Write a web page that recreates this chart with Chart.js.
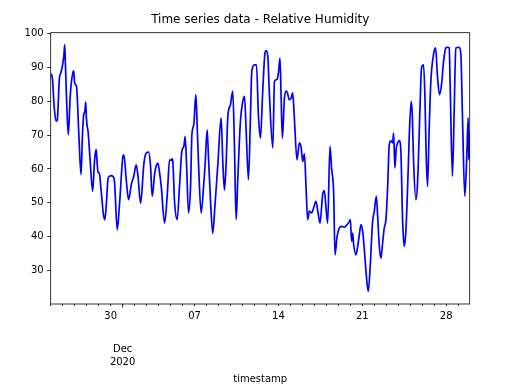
<!DOCTYPE html>
<html>
<head>
<meta charset="utf-8">
<script src="https://cdn.jsdelivr.net/npm/chart.js@4.4.0/dist/chart.umd.min.js"></script>
<style>
  html, body { margin: 0; padding: 0; background: #fff; }
  canvas { display: block; }
</style>
</head>
<body>
<canvas id="humidityChart" width="516" height="388"></canvas>
<script>
// x = days counted from 1 Nov 2020 (25 = 25 Nov 00:00, 31 = 1 Dec 00:00)
const dayPos = [
  25.00, 25.08, 25.15, 25.30, 25.45, 25.55, 25.72, 25.85, 25.95, 26.10,
  26.17, 26.22, 26.35, 26.47, 26.62, 26.72, 26.85, 26.92, 26.98, 27.05,
  27.15, 27.35, 27.53, 27.65, 27.75, 27.85, 27.92, 27.98, 28.05, 28.12,
  28.30, 28.50, 28.65, 28.72, 28.80, 28.87, 28.95, 29.05, 29.20, 29.40,
  29.52, 29.65, 29.78, 29.90, 30.05, 30.19, 30.33, 30.55, 30.75, 31.03,
  31.11, 31.30, 31.50, 31.72, 31.94, 32.13, 32.28, 32.50, 32.78, 32.97,
  33.17, 33.33, 33.47, 33.67, 33.80, 33.94, 34.08, 34.22, 34.50, 34.72,
  34.92, 35.05, 35.12, 35.19, 35.33, 35.55, 35.75, 35.94, 36.11, 36.22,
  36.33, 36.50, 36.67, 36.78, 36.94, 37.11, 37.22, 37.33, 37.55, 37.78,
  37.89, 38.05, 38.17, 38.33, 38.52, 38.72, 38.94, 39.22, 39.36, 39.50,
  39.64, 39.78, 40.00, 40.19, 40.33, 40.47, 40.61, 40.83, 41.03, 41.17,
  41.30, 41.50, 41.67, 41.78, 42.00, 42.17, 42.33, 42.50, 42.69, 42.88,
  42.97, 43.11, 43.25, 43.53, 43.67, 43.89, 44.00, 44.13, 44.22, 44.33,
  44.50, 44.64, 44.75, 44.90, 45.05, 45.19, 45.33, 45.55, 45.75, 45.89,
  46.03, 46.17, 46.30, 46.44, 46.58, 46.78, 46.94, 47.13, 47.33, 47.47,
  47.69, 47.83, 47.97, 48.11, 48.30, 48.44, 48.61, 48.72, 48.89, 49.08,
  49.28, 49.50, 49.72, 49.92, 50.00, 50.11, 50.19, 50.28, 50.47, 50.61,
  50.75, 50.89, 51.03, 51.17, 51.38, 51.50, 51.67, 51.86, 52.00, 52.17,
  52.28, 52.42, 52.55, 52.69, 52.83, 52.97, 53.11, 53.25, 53.39, 53.53,
  53.61, 53.72, 53.83, 53.94, 54.08, 54.22, 54.36, 54.50, 54.64, 54.83,
  54.92, 55.08, 55.17, 55.28, 55.47, 55.61, 55.83, 55.94, 56.11, 56.22,
  56.33, 56.44, 56.58, 56.72, 56.94, 57.11, 57.28, 57.44, 57.61, 57.78,
  57.97, 58.11, 58.25, 58.33, 58.52, 58.67, 58.80, 59.08, 59.22, 59.36,
  59.55, 59.72, 59.83, 59.88, 59.92, 59.96
];
const humidity = [
  87.5, 88.0, 86.5, 78.0, 74.1, 74.5, 86.5, 88.5, 90.0, 93.5,
  96.8, 92.0, 78.0, 70.1, 81.0, 85.5, 88.5, 89.0, 86.0, 85.0,
  84.5, 70.0, 58.3, 70.0, 76.0, 77.0, 79.8, 75.0, 72.5, 71.0,
  62.0, 53.4, 62.0, 64.5, 65.7, 62.0, 59.0, 58.8, 54.0, 46.5,
  45.0, 50.0, 57.0, 57.8, 58.0, 57.8, 56.0, 42.0, 50.0, 63.7,
  64.2, 57.0, 50.9, 55.3, 58.0, 61.2, 58.0, 49.9, 61.7, 64.7,
  65.0, 60.8, 51.9, 58.5, 60.8, 61.7, 59.0, 55.0, 44.0, 52.0,
  62.7, 62.5, 63.0, 62.2, 50.5, 45.0, 55.0, 65.2, 66.7, 69.6,
  62.0, 47.0, 55.0, 70.1, 73.1, 82.0, 73.0, 62.0, 47.0, 56.0,
  61.7, 71.6, 63.0, 51.0, 41.0, 50.0, 61.0, 75.1, 62.0, 53.8,
  62.0, 75.6, 79.0, 83.0, 67.0, 45.0, 57.0, 74.1, 80.0, 81.5,
  72.0, 56.8, 76.0, 88.9, 90.8, 90.8, 76.0, 69.1, 83.0, 94.3,
  95.0, 93.5, 82.0, 66.2, 85.9, 86.5, 88.5, 92.8, 82.0, 69.1,
  81.0, 83.0, 82.5, 80.5, 80.8, 82.5, 75.0, 62.7, 67.7, 66.5,
  62.2, 64.5, 55.0, 45.0, 47.5, 47.0, 48.5, 50.4, 46.5, 44.0,
  52.4, 53.6, 48.5, 44.0, 66.7, 60.0, 52.9, 34.6, 40.0, 42.5,
  43.0, 42.8, 43.5, 44.5, 45.0, 38.6, 41.0, 37.5, 34.6, 37.0,
  40.5, 43.5, 41.5, 36.0, 26.7, 23.8, 32.0, 44.5, 47.5, 51.9,
  46.0, 37.0, 33.6, 38.0, 42.5, 45.0, 54.3, 67.2, 68.3, 67.7,
  70.6, 60.3, 66.0, 67.7, 68.4, 65.0, 45.0, 37.1, 42.0, 60.0,
  70.1, 80.0, 76.0, 62.0, 50.9, 56.0, 80.0, 89.9, 90.8, 82.0,
  64.0, 54.8, 72.0, 86.0, 93.8, 95.8, 87.0, 82.0, 85.0, 91.8,
  95.8, 96.0, 95.8, 85.0, 57.8, 78.0, 95.8, 96.0, 94.0, 75.0,
  51.9, 64.0, 75.1, 62.7, 71.0, 63.0
];

const yTicks = [30, 40, 50, 60, 70, 80, 90, 100];
const labeledDays = [30, 37, 44, 51, 58];
const dayLabels = ['30', '07', '14', '21', '28'];
const monthTickDay = 31;
const monthLabel = ['Dec', '2020'];
const chartTitle = 'Time series data - Relative Humidity';

const xMin = 25, xMax = 59.96;
const dayTicks = [];
for (let d = 25; d <= 59; d++) dayTicks.push(d);

const font = { family: 'DejaVu Sans', size: 10 };

// matplotlib-style frame, title centred over the axes, longer major tick at 1 Dec
const framePlugin = {
  id: 'frame',
  afterDraw(chart) {
    const { ctx, chartArea: a, scales } = chart;
    ctx.save();
    ctx.strokeStyle = '#000';
    ctx.lineWidth = 0.8;
    ctx.strokeRect(a.left, a.top, a.right - a.left, a.bottom - a.top);
    const xm = scales.x.getPixelForValue(monthTickDay);
    ctx.beginPath();
    ctx.moveTo(xm, a.bottom);
    ctx.lineTo(xm, a.bottom + 3.5);
    ctx.stroke();

    ctx.fillStyle = '#000';
    ctx.font = '12px "DejaVu Sans"';
    ctx.textAlign = 'center';
    ctx.textBaseline = 'middle';
    ctx.fillText(chartTitle, (a.left + a.right) / 2, 20.2);
    ctx.restore();
  }
};

new Chart(document.getElementById('humidityChart'), {
  type: 'line',
  data: {
    datasets: [{
      data: dayPos.map((d, i) => ({ x: d, y: humidity[i] })),
      borderColor: '#0000ff',
      borderWidth: 1.7,
      pointRadius: 0,
      fill: false,
      cubicInterpolationMode: 'monotone'
    }]
  },
  options: {
    responsive: false,
    animation: false,
    devicePixelRatio: 1,
    layout: { padding: { left: 0, right: 46.3, top: 32.7, bottom: 0 } },
    plugins: {
      legend: { display: false },
      tooltip: { enabled: false },
      title: { display: false }
    },
    scales: {
      x: {
        type: 'linear',
        min: xMin, max: xMax,
        weight: 0,
        afterBuildTicks: s => { s.ticks = dayTicks.map(v => ({ value: v })); },
        afterFit: s => { s.height = 34; },
        grid: { display: true, drawOnChartArea: false, drawTicks: true, tickLength: 2, tickColor: '#000', tickWidth: 0.8 },
        border: { display: false },
        ticks: {
          autoSkip: false, maxRotation: 0, padding: 4.5, color: '#000', font,
          callback: v => {
            const i = labeledDays.indexOf(v);
            return i >= 0 ? dayLabels[i] : '';
          }
        }
      },
      month: {
        type: 'linear',
        axis: 'x',
        position: 'bottom',
        min: xMin, max: xMax,
        weight: 1,
        afterBuildTicks: s => { s.ticks = [{ value: monthTickDay }]; },
        afterFit: s => { s.height = 50; },
        grid: { display: false, drawTicks: false },
        border: { display: false },
        ticks: {
          autoSkip: false, maxRotation: 0, padding: 4.5, color: '#000',
          font: { family: 'DejaVu Sans', size: 10, lineHeight: 1.3 },
          callback: () => monthLabel
        },
        title: {
          display: true, text: 'timestamp', color: '#000', font,
          padding: { top: 0, bottom: 3 }
        }
      },
      y: {
        min: 20.05, max: 100.3,
        afterFit: s => { s.width = 50.7; },
        afterBuildTicks: s => { s.ticks = yTicks.map(v => ({ value: v })); },
        grid: { display: true, drawOnChartArea: false, drawTicks: true, tickLength: 3.5, tickColor: '#000', tickWidth: 0.8 },
        border: { display: false },
        ticks: { padding: 3.5, color: '#000', font }
      }
    }
  },
  plugins: [framePlugin]
});
</script>
</body>
</html>
